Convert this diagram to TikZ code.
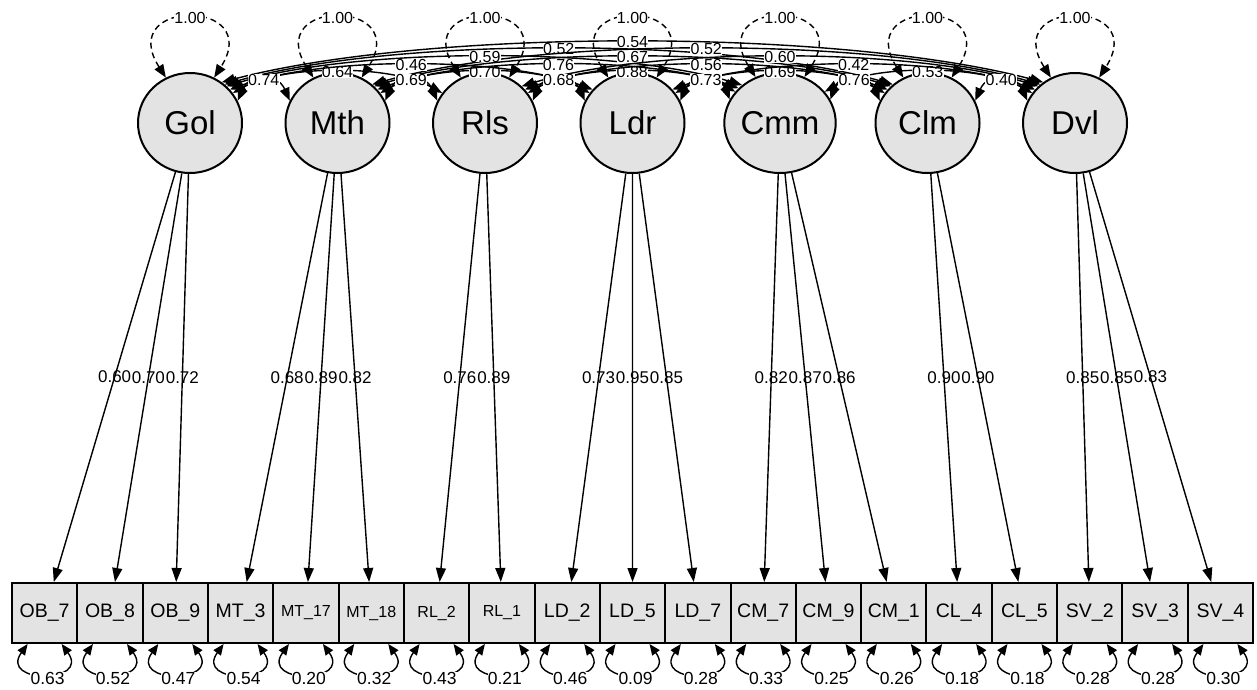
\documentclass[tikz,border=0pt]{standalone}
\usepackage{fontspec}
\setmainfont{Liberation Sans}
\usetikzlibrary{arrows.meta,shapes.geometric,calc}
\begin{document}
\begin{tikzpicture}[x=1pt,y=-1pt,
  lat/.style={ellipse, draw, line width=2pt, fill=gray!22, minimum width=104pt, minimum height=100pt, inner sep=0pt, font=\fontsize{33}{36}\selectfont},
  obs/.style={rectangle, draw, line width=2pt, fill=gray!22, minimum width=65.3pt, minimum height=60pt, inner sep=0pt, font=\fontsize{19.5}{21}\selectfont},
  obss/.style={obs, font=\fontsize{16}{17}\selectfont},
  load/.style={-{Triangle[length=14pt,width=10pt]}, line width=1.4pt},
  covE/.style={{Triangle[length=13pt,width=10pt]}-{Triangle[length=13pt,width=10pt]}, line width=1.4pt},
  varE/.style={covE, dash pattern=on 6pt off 4pt},
  resE/.style={{Triangle[length=11pt,width=9pt]}-{Triangle[length=11pt,width=9pt]}, line width=1.4pt},
  ll/.style={font=\fontsize{17}{18}\selectfont, inner sep=0pt},
  cl/.style={font=\fontsize{16}{17}\selectfont, fill=white, inner sep=0.3pt},
  rl/.style={font=\fontsize{17.5}{18}\selectfont, fill=white, inner sep=0.3pt}
]
\useasboundingbox[fill=white] (0,0) rectangle (1257,689);

% latent variables
\foreach \n [count=\i from 0] in {Gol,Mth,Rls,Ldr,Cmm,Clm,Dvl}
  \node[lat] (L\i) at ({190+147.5*\i},123) {\n};

% observed variables
\foreach \t/\s [count=\k from 0] in {OB\_7/obs,OB\_8/obs,OB\_9/obs,MT\_3/obs,MT\_17/obss,MT\_18/obss,RL\_2/obss,RL\_1/obss,LD\_2/obs,LD\_5/obs,LD\_7/obs,CM\_7/obs,CM\_9/obs,CM\_1/obs,CL\_4/obs,CL\_5/obs,SV\_2/obs,SV\_3/obs,SV\_4/obs}
  \node[\s] (B\k) at ({44.65+65.32*\k},613) {\t};

% loadings
\foreach \i/\k/\v in {0/0/0.60,0/1/0.70,0/2/0.72,1/3/0.68,1/4/0.89,1/5/0.82,2/6/0.76,2/7/0.89,3/8/0.73,3/9/0.95,3/10/0.85,4/11/0.82,4/12/0.87,4/13/0.86,5/14/0.90,5/15/0.90,6/16/0.85,6/17/0.85,6/18/0.83}
  \draw[load] (L\i) -- node[ll]{\v} (B\k);

% residual variances
\foreach \v [count=\k from 0] in {0.63,0.52,0.47,0.54,0.20,0.32,0.43,0.21,0.46,0.09,0.28,0.33,0.25,0.26,0.18,0.18,0.28,0.28,0.30}{
  \pgfmathsetmacro\cx{44.65+65.32*\k}
  \draw[resE] ([xshift=-17pt]B\k.south) .. controls ({\cx-46},684) and ({\cx+46},684) .. node[rl, xshift=3pt, yshift=-4pt]{\v} ([xshift=17pt]B\k.south);
}

% latent variances
\foreach \i in {0,...,6}{
  \pgfmathsetmacro\cx{190+147.5*\i}
  \draw[varE] (L\i.118) .. controls ({\cx-75},-2) and ({\cx+75},-2) .. node[cl]{1.00} (L\i.62);
}

% covariances
\foreach \i/\j/\lab in {0/2/0.64,1/3/0.70,2/4/0.88,3/5/0.69,4/6/0.53,
  0/6/0.54,0/5/0.52,1/6/0.52,0/4/0.59,1/5/0.67,2/6/0.60,
  0/3/0.46,1/4/0.76,2/5/0.56,3/6/0.42,
  0/1/0.74,1/2/0.69,2/3/0.68,3/4/0.73,4/5/0.76,5/6/0.40}{
  \pgfmathtruncatemacro\d{\j-\i}
  \pgfmathtruncatemacro\th{{0,25,35,40,45,48,52}[\d]}
  \pgfmathsetmacro\cy{{0,72.7,64.6,56.4,46.8,36.7,28.1}[\d]}
  \pgfmathsetmacro\xa{190+147.5*\i+51*cos(\th)}
  \pgfmathsetmacro\xb{190+147.5*\j-51*cos(\th)}
  \pgfmathsetmacro\ca{\xa+0.25*(\xb-\xa)}
  \pgfmathsetmacro\cb{\xb-0.25*(\xb-\xa)}
  \pgfmathtruncatemacro\thb{180-\th}
  \draw[covE] (L\i.\th) .. controls (\ca,\cy) and (\cb,\cy) .. node[cl]{\lab} (L\j.\thb);
}
\end{tikzpicture}
\end{document}
